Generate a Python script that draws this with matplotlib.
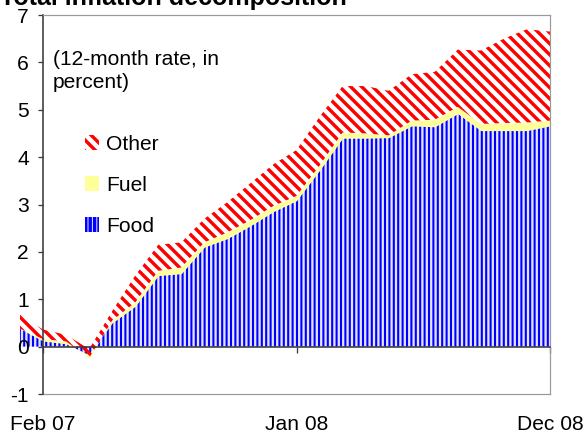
import numpy as np
import matplotlib
matplotlib.use('Agg')
import matplotlib.pyplot as plt

months = ['Jan 07', 'Feb 07', 'Mar 07', 'Apr 07', 'May 07', 'Jun 07', 'Jul 07', 'Aug 07',
          'Sep 07', 'Oct 07', 'Nov 07', 'Dec 07', 'Jan 08', 'Feb 08', 'Mar 08', 'Apr 08',
          'May 08', 'Jun 08', 'Jul 08', 'Aug 08', 'Sep 08', 'Oct 08', 'Nov 08', 'Dec 08']
food = [0.38, 0.12, 0.06, -0.18, 0.50, 0.85, 1.50, 1.54, 2.10, 2.28, 2.55, 2.85,
        3.08, 3.72, 4.40, 4.40, 4.41, 4.66, 4.64, 4.92, 4.56, 4.56, 4.56, 4.66]
fuel = [0.00, 0.04, 0.05, -0.06, 0.05, 0.08, 0.10, 0.13, 0.10, 0.13, 0.12, 0.12,
        0.10, 0.10, 0.12, 0.10, 0.05, 0.11, 0.15, 0.14, 0.14, 0.16, 0.17, 0.11]
other = [0.30, 0.20, 0.14, 0.19, 0.20, 0.57, 0.55, 0.53, 0.50, 0.64, 0.78, 0.88,
         0.97, 1.03, 0.98, 1.00, 0.94, 0.98, 1.01, 1.21, 1.55, 1.78, 1.97, 1.88]
xtick_labels = ['Feb 07', 'Jan 08', 'Dec 08']
yticks = [-1, 0, 1, 2, 3, 4, 5, 6, 7]

DPI = 132
W, H = 587, 436
BS = chr(92)


def pt(px):
    return px * 72.0 / DPI


plt.rcParams['font.family'] = ['Liberation Sans', 'DejaVu Sans']
fs = pt(21)

fig = plt.figure(figsize=(W / DPI, H / DPI), dpi=DPI)
ax = fig.add_axes([43 / W, 42 / H, 507 / W, 379 / H])

origin = months.index('Feb 07')
x = np.arange(len(months)) - origin
f = np.array(food)
fu = np.array(fuel)
o = np.array(other)
c1 = f
c2 = f + fu
c3 = c2 + o


def set_hlw(art, lw):
    if hasattr(art, 'set_hatch_linewidth'):
        art.set_hatch_linewidth(lw)


plt.rcParams['hatch.linewidth'] = pt(2.1)
food_art = ax.fill_between(x, 0, c1, facecolor='#e4e4ff', edgecolor='#0000FF',
                           hatch='|' * 5, linewidth=0, clip_on=False, zorder=1)
set_hlw(food_art, pt(2.1))
fuel_art = ax.fill_between(x, c1, c2, facecolor='#FFFF99', edgecolor='#FFFF99',
                           linewidth=0, clip_on=False, zorder=1.1)
plt.rcParams['hatch.linewidth'] = pt(3.4)
other_art = ax.fill_between(x, c2, c3, facecolor='none', edgecolor='#FF0000',
                            hatch=BS * 4, linewidth=0, clip_on=False, zorder=1.2)
set_hlw(other_art, pt(3.4))

ax.set_xlim(0, len(months) - 1 - origin)
ax.set_ylim(-1, 7)

dark = '#3a3a3a'
gray = '#9a9a9a'
ax.spines['left'].set_color(dark)
ax.spines['left'].set_linewidth(pt(1.6))
ax.spines['bottom'].set_position(('data', 0))
ax.spines['bottom'].set_color(dark)
ax.spines['bottom'].set_linewidth(pt(1.6))
ax.spines['top'].set_color(gray)
ax.spines['top'].set_linewidth(pt(1.2))
ax.spines['right'].set_color(gray)
ax.spines['right'].set_linewidth(pt(1.2))
ax.axhline(-1, color=gray, linewidth=pt(1.2), clip_on=False, zorder=2.5)

ax.set_yticks(yticks)
ax.set_yticklabels([str(v) for v in yticks])
ax.tick_params(axis='y', direction='out', length=pt(5), width=pt(1.3), color=dark,
               pad=pt(9), labelsize=fs, labelcolor='black')
xt = [months.index(m) - origin for m in xtick_labels]
ax.set_xticks(xt)
ax.set_xticklabels(xtick_labels)
ax.tick_params(axis='x', direction='out', length=pt(6), width=pt(1.3), color=dark,
               pad=pt(62), labelsize=fs, labelcolor='black')

fig.text(0 / W, 1 - 5 / H, 'Total inflation decomposition', fontweight='bold',
         fontsize=pt(25), ha='left', va='baseline')
fig.text(53 / W, 1 - 50 / H, '(12-month rate, in\npercent)', fontsize=fs,
         ha='left', va='top', linespacing=1.25)

leg = ax.legend([other_art, fuel_art, food_art], ['Other', 'Fuel', 'Food'],
                loc='upper left', bbox_to_anchor=(85 / W, 1 - 135 / H),
                bbox_transform=fig.transFigure, frameon=False, fontsize=fs,
                handlelength=14 / 21, handleheight=15 / 21, handletextpad=7 / 21,
                labelspacing=1.05, borderpad=0, borderaxespad=0)

fig.savefig('out.png', dpi=DPI)
